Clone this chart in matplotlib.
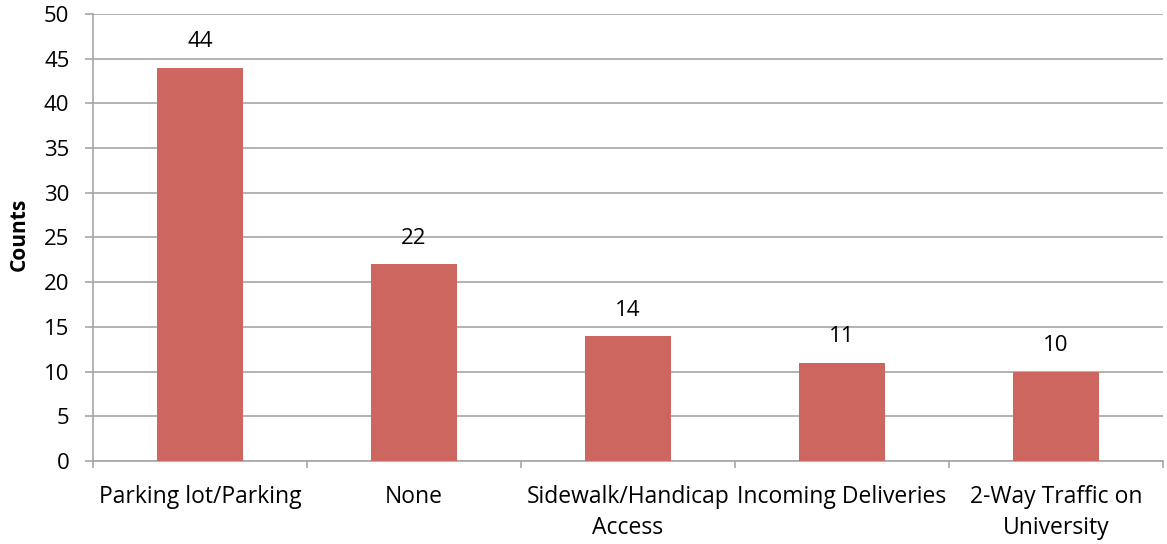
import matplotlib.pyplot as plt
import numpy as np

# data
categories = ["Parking lot/Parking", "None", "Sidewalk/Handicap\nAccess",
              "Incoming Deliveries", "2-Way Traffic on\nUniversity"]
counts = [44, 22, 14, 11, 10]

plt.rcParams['font.family'] = ['Open Sans', 'DejaVu Sans']

fig = plt.figure(figsize=(11.67, 5.44), dpi=100)
ax = fig.add_axes([0.0797, 0.1526, 0.9169, 0.8217])

x = np.arange(len(categories))
bars = ax.bar(x, counts, width=0.4, color="#CD665E", zorder=3)

# value labels
for bar in bars:
    h = bar.get_height()
    ax.annotate(f"{int(h)}", (bar.get_x() + bar.get_width() / 2, h),
                xytext=(0, 18.5), textcoords="offset points",
                ha="center", va="center", fontsize=16)

# axes
ax.set_xlim(-0.5, len(categories) - 0.5)
ax.set_ylim(0, 50)
ax.set_yticks(range(0, 51, 5))
ax.grid(axis="y", color="#A6A6A6", linewidth=1.2, zorder=1)
ax.set_ylabel("Counts", fontsize=15, fontweight="bold", va="center")
ax.yaxis.set_label_coords(-0.069, 0.506)

ax.set_xticks(x)
ax.set_xticklabels(categories, fontsize=16.5, linespacing=1.4)
ax.set_xticks(np.arange(-0.5, len(categories), 1.0), minor=True)
ax.tick_params(axis="x", which="major", length=0, pad=17)
ax.tick_params(axis="x", which="minor", length=5, color="#A6A6A6", width=1.2)
ax.tick_params(axis="y", length=6, color="#A6A6A6", width=1.2, labelsize=16, pad=11)

for side in ["top", "right"]:
    ax.spines[side].set_visible(False)
for side in ["left", "bottom"]:
    ax.spines[side].set_color("#A6A6A6")
    ax.spines[side].set_linewidth(1.2)

fig.savefig("out.png", dpi=100)
